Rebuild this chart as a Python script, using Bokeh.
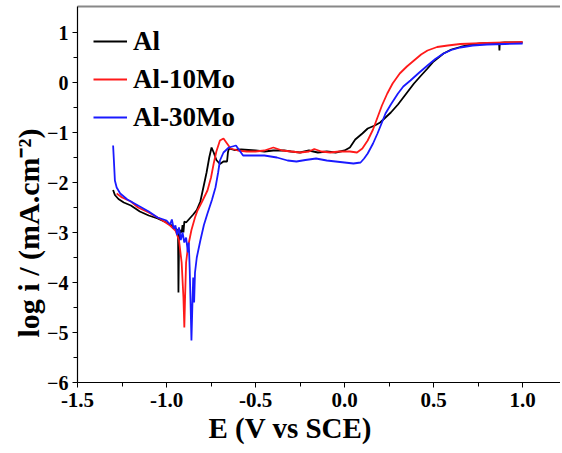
from bokeh.plotting import figure
from bokeh.models import Range1d, LinearAxis, FixedTicker, NumeralTickFormatter, Legend, LegendItem, Title
from bokeh.embed import file_html
from bokeh.resources import INLINE

# ---- data ----
e_al = [-1.30, -1.29, -1.27, -1.24, -1.20, -1.15, -1.10, -1.05, -1.00, -0.97, -0.95, -0.94,
        -0.935, -0.933, -0.930, -0.925, -0.915, -0.91, -0.905, -0.90, -0.89, -0.87, -0.85,
        -0.83, -0.81, -0.79, -0.775, -0.76, -0.747, -0.735, -0.72, -0.70, -0.68, -0.66,
        -0.655, -0.65, -0.62, -0.58, -0.50, -0.45, -0.40, -0.34, -0.30, -0.25, -0.20, -0.15,
        -0.10, -0.05, 0.00, 0.03, 0.06, 0.10, 0.13, 0.17, 0.20, 0.23, 0.26, 0.30, 0.33, 0.36,
        0.39, 0.43, 0.466, 0.50, 0.556, 0.60, 0.65, 0.70, 0.76, 0.82, 0.868, 0.870, 0.872,
        0.90, 0.95, 1.00]
i_al = [-2.15, -2.25, -2.33, -2.40, -2.46, -2.58, -2.66, -2.72, -2.80, -2.86, -2.92, -2.95,
        -3.10, -4.20, -3.20, -2.95, -3.00, -2.85, -3.00, -2.78, -2.80, -2.72, -2.64,
        -2.55, -2.38, -2.05, -1.80, -1.50, -1.30, -1.40, -1.55, -1.63, -1.58, -1.58,
        -1.40, -1.32, -1.35, -1.34, -1.36, -1.38, -1.36, -1.36, -1.38, -1.40, -1.36, -1.40,
        -1.38, -1.40, -1.36, -1.30, -1.14, -1.02, -0.92, -0.86, -0.80, -0.70, -0.60, -0.44,
        -0.30, -0.16, -0.02, 0.14, 0.28, 0.42, 0.58, 0.66, 0.71, 0.75, 0.78, 0.79, 0.79,
        0.64, 0.79, 0.80, 0.80, 0.80]

e_10 = [-1.28, -1.25, -1.20, -1.16, -1.10, -1.03, -0.98, -0.95, -0.93, -0.915, -0.905, -0.90,
        -0.895, -0.89, -0.88, -0.86, -0.84, -0.826, -0.80, -0.77, -0.75, -0.735, -0.72, -0.70,
        -0.68, -0.66, -0.64, -0.60, -0.55, -0.50, -0.45, -0.40, -0.35, -0.30, -0.25, -0.20,
        -0.17, -0.13, -0.08, -0.03, 0.03, 0.07, 0.10, 0.13, 0.16, 0.185, 0.21, 0.24, 0.27,
        0.31, 0.35, 0.39, 0.43, 0.466, 0.52, 0.58, 0.65, 0.725, 0.80, 0.90, 1.00]
i_10 = [-2.22, -2.30, -2.38, -2.50, -2.60, -2.74, -2.86, -2.96, -3.15, -3.60, -4.30, -4.90,
        -4.20, -3.60, -3.30, -2.95, -2.70, -2.56, -2.38, -2.16, -1.90, -1.62, -1.38, -1.16,
        -1.12, -1.22, -1.32, -1.36, -1.38, -1.38, -1.36, -1.30, -1.36, -1.38, -1.40, -1.38,
        -1.33, -1.38, -1.40, -1.38, -1.38, -1.40, -1.32, -1.16, -0.94, -0.70, -0.46, -0.22,
        -0.02, 0.18, 0.32, 0.44, 0.56, 0.64, 0.71, 0.74, 0.77, 0.78, 0.79, 0.80, 0.81]

e_30 = [-1.30, -1.295, -1.29, -1.28, -1.26, -1.22, -1.16, -1.10, -1.05, -1.00, -0.98, -0.97,
        -0.96, -0.95, -0.94, -0.93, -0.92, -0.91, -0.90, -0.89, -0.88, -0.875, -0.87, -0.865,
        -0.86, -0.855, -0.85, -0.845, -0.84, -0.83, -0.81, -0.79, -0.77, -0.745, -0.725,
        -0.71, -0.70, -0.68, -0.65, -0.63, -0.61, -0.59, -0.57, -0.52, -0.45, -0.38, -0.32,
        -0.27, -0.22, -0.16, -0.10, -0.05, 0.00, 0.05, 0.09, 0.11, 0.13, 0.16, 0.185, 0.21,
        0.23, 0.26, 0.30, 0.33, 0.37, 0.42, 0.466, 0.51, 0.556, 0.60, 0.65, 0.72, 0.80,
        0.90, 1.00]
i_30 = [-1.26, -1.60, -1.96, -2.10, -2.22, -2.34, -2.46, -2.58, -2.70, -2.76, -2.84, -2.74,
        -2.92, -2.86, -3.05, -2.90, -3.15, -3.00, -3.20, -3.10, -3.40, -3.20, -3.70, -4.40,
        -5.16, -4.50, -3.90, -4.40, -3.80, -3.50, -3.16, -2.85, -2.62, -2.35, -2.10,
        -1.80, -1.56, -1.40, -1.30, -1.28, -1.26, -1.36, -1.46, -1.46, -1.46, -1.50, -1.56,
        -1.58, -1.55, -1.52, -1.56, -1.58, -1.60, -1.62, -1.60, -1.52, -1.42, -1.22, -1.02,
        -0.80, -0.62, -0.44, -0.22, -0.08, 0.04, 0.20, 0.34, 0.47, 0.58, 0.65, 0.70, 0.74,
        0.76, 0.77, 0.78]

series_names = ["Al", "Al-10Mo", "Al-30Mo"]
x_ticks = [-1.5, -1.0, -0.5, 0.0, 0.5, 1.0]
y_ticks = [1, 0, -1, -2, -3, -4, -5, -6]
x_title = "E (V vs SCE)"
y_title = "log i / (mA.cm\u207b\u00b2)"

FONT = "Liberation Serif"

p = figure(width=560, height=450, output_backend="svg", toolbar_location=None,
           x_range=Range1d(-1.5, 1.213), y_range=Range1d(-6, 1.52),
           min_border_left=77, min_border_right=0, min_border_top=6, min_border_bottom=68)
p.outline_line_color = None
p.grid.visible = False
p.background_fill_color = "white"

r_al = p.line(e_al, i_al, line_color="black", line_width=1.8)
r_10 = p.line(e_10, i_10, line_color="#ff1a1a", line_width=1.8)
r_30 = p.line(e_30, i_30, line_color="#1a1aff", line_width=1.8)

xa = p.xaxis[0]
xa.ticker = FixedTicker(ticks=x_ticks, minor_ticks=[-1.25, -0.75, -0.25, 0.25, 0.75])
xa.formatter = NumeralTickFormatter(format="0.0")
ya = p.yaxis[0]
ya.ticker = FixedTicker(ticks=y_ticks, minor_ticks=[0.5, -0.5, -1.5, -2.5, -3.5, -4.5, -5.5])

for ax in (xa, ya):
    ax.axis_line_color = "black"
    ax.axis_line_width = 1.2
    ax.major_tick_line_color = "black"
    ax.minor_tick_line_color = "black"
    ax.major_tick_out = 5
    ax.major_tick_in = 0
    ax.minor_tick_out = 4
    ax.minor_tick_in = 0
    ax.major_label_text_font = FONT
    ax.major_label_text_font_style = "bold"
    ax.major_label_text_color = "black"

xa.major_label_text_font_size = "21px"
xa.major_label_standoff = 5
ya.major_label_text_font_size = "20px"
ya.major_label_standoff = 4

top = LinearAxis(ticker=FixedTicker(ticks=[]), axis_line_color="#888888", axis_line_width=2,
                 major_tick_line_color=None, minor_tick_line_color=None,
                 major_label_text_font_size="0px")
p.add_layout(top, "above")

# axis titles (placed off-centre as in the reference)
tx = Title(text=x_title, align="left", offset=131, text_font=FONT, text_font_style="bold",
           text_font_size="29px", text_color="black", standoff=0)
p.add_layout(tx, "below")
ty = Title(text=y_title, align="left", offset=45, text_font=FONT, text_font_style="bold",
           text_font_size="30px", text_color="black", standoff=0)
p.add_layout(ty, "left")

legend = Legend(items=[LegendItem(label=series_names[0], renderers=[r_al]),
                       LegendItem(label=series_names[1], renderers=[r_10]),
                       LegendItem(label=series_names[2], renderers=[r_30])],
                location="top_left", margin=16, padding=0, spacing=0,
                label_height=38, glyph_height=38, glyph_width=34, label_standoff=6,
                label_text_font=FONT, label_text_font_style="bold",
                label_text_font_size="27px", label_text_color="black",
                background_fill_alpha=0, border_line_color=None)
p.add_layout(legend, "center")

open("out.html", "w").write(file_html(p, INLINE))
